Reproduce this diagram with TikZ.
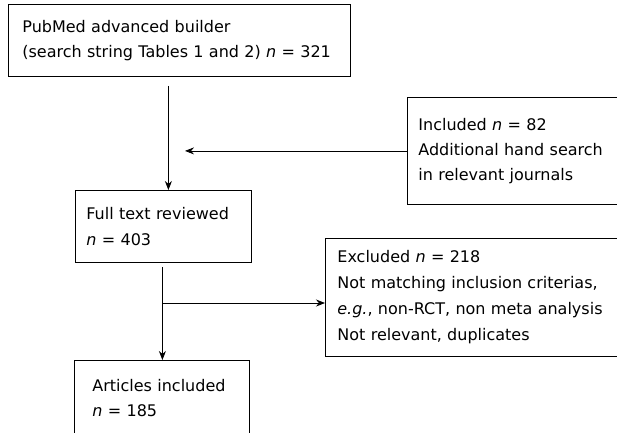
\documentclass[tikz,border=0pt]{standalone}
\usepackage{fontspec}
\setmainfont{DejaVu Sans}
\usetikzlibrary{arrows.meta}
\begin{document}
\begin{tikzpicture}[x=1pt,y=-1pt]
        \tikzset{box/.style = {draw,line width=0.8pt,anchor=north west,align=left,inner ysep=0pt,
            font=\fontsize{16}{25}\selectfont}}
        \tikzset{arrow/.style = {line width=0.8pt,-{Stealth[length=9pt,width=7pt]}}}
        \useasboundingbox (0,0) rectangle (617,432);
        \clip (0,0) rectangle (617,432);
        % search and hand search
        \node[box,minimum width=342pt,minimum height=72pt,inner xsep=14pt,text width=314pt] (pubmed) at (8,4)
            {PubMed advanced builder\\(search string Tables 1 and 2) \textit{n} = 321};
        \node[box,minimum width=243pt,minimum height=107pt,inner xsep=11pt,text width=221pt] (hand) at (407,97)
            {Included \textit{n} = 82\\Additional hand search\\in relevant journals};
        % full text and exclusions
        \node[box,minimum width=176pt,minimum height=72pt,inner xsep=11pt,text width=154pt,
            font=\fontsize{16}{26}\selectfont] (full) at (75,190)
            {Full text reviewed\\\textit{n} = 403};
        \node[box,minimum width=325pt,minimum height=118pt,inner xsep=12pt,text width=301pt,
            font=\fontsize{16}{26}\selectfont] (excl) at (325,238)
            {Excluded \textit{n} = 218\\Not matching inclusion criterias,\\\textit{e.g.}, non-RCT, non meta analysis\\Not relevant, duplicates};
        % result
        \node[box,minimum width=175pt,minimum height=75pt,inner xsep=18pt,text width=139pt] (incl) at (74,360)
            {Articles included\\\textit{n} = 185};
        \coordinate (tip1) at (185,0);
        \coordinate (split) at (162,303);
        % arrows
        \draw[arrow] ([xshift=5pt,yshift=-9pt]full.north |- pubmed.south) -- ([xshift=5pt]full.north);
        \draw[arrow] (hand.west) -- (hand.west -| tip1);
        \draw[arrow] ([xshift=-1pt,yshift=-4pt]full.south) -- ([xshift=-1pt]full.south |- incl.north);
        \draw[arrow] (split) -- (split -| excl.west);
\end{tikzpicture}
\end{document}
